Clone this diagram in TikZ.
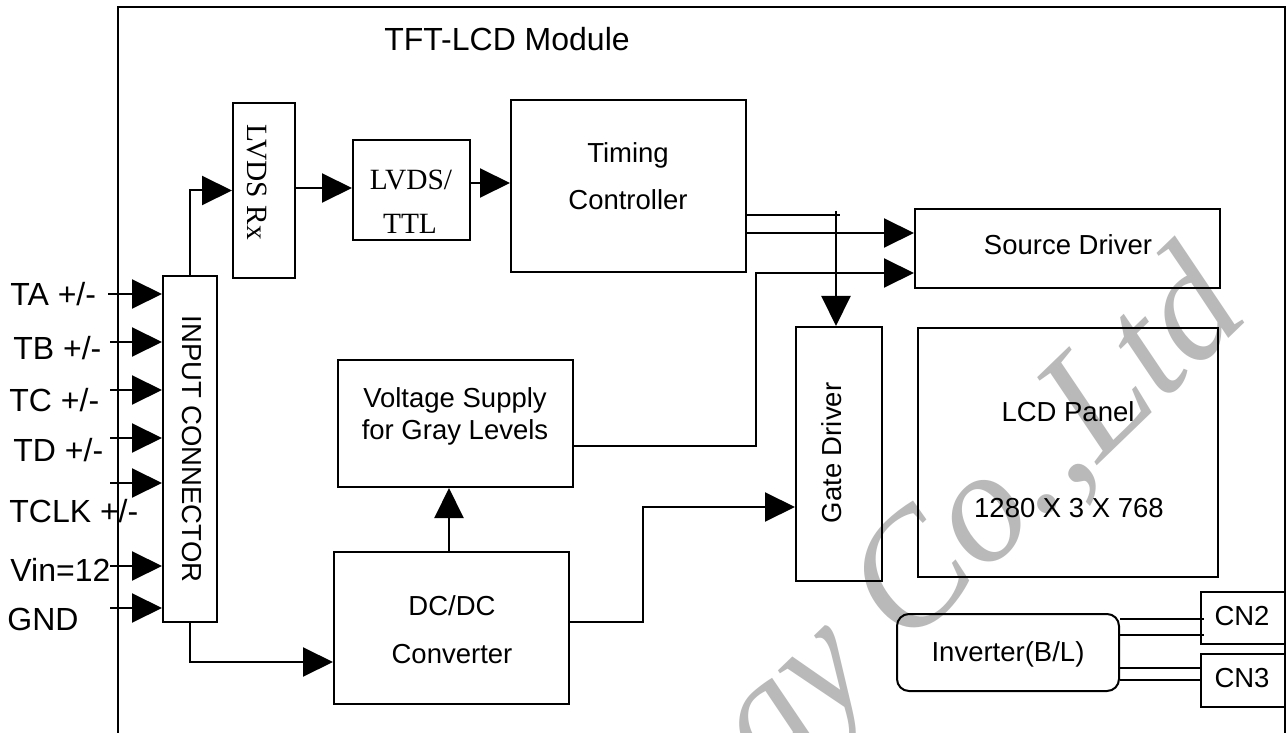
\documentclass[tikz,border=0pt]{standalone}
\usepackage{fontspec}
\setmainfont{Liberation Sans}
\newfontfamily\tmsfont{Liberation Serif}
\usetikzlibrary{arrows.meta}
\definecolor{wmgray}{RGB}{185,185,185}
\begin{document}
\begin{tikzpicture}[x=0.5pt,y=-0.5pt,
  box/.style={draw,line width=1pt,inner sep=0pt,rectangle},
  arr/.style={line width=1pt,-{Triangle[length=15pt,width=14.5pt]}},
  wire/.style={line width=1pt},
  big/.style={inner sep=0pt,font=\fontsize{16}{19}\selectfont},
  txt/.style={inner sep=0pt,font=\fontsize{13.75}{16}\selectfont},
  tms/.style={inner sep=0pt,font=\tmsfont\fontsize{14.7}{17}\selectfont},
  wm/.style={inner sep=0pt,text=wmgray,font=\tmsfont\itshape\fontsize{80}{90}\selectfont}]
\useasboundingbox (0,0) rectangle (1287,733);
\fill[white] (0,0) rectangle (1287,733);
% watermark
\begin{scope}
\clip (0,0) rectangle (1287,733);
\node[wm,rotate=44,anchor=base east] (wmk) at (1252,316) {ogy Co.,Ltd};
\end{scope}
% module frame
\draw[wire] (118,733) -- (118,7) -- (1285,7) -- (1285,733);
\node[big,anchor=base] (title) at (507,51) {TFT-LCD Module};
% boxes
\node[box,minimum width=27pt,minimum height=173pt] (incon) at (190,449) {};
\node[box,minimum width=31pt,minimum height=87.5pt] (lvdsrx) at (264,190.5) {};
\node[box,minimum width=58.5pt,minimum height=50pt] (lvdsttl) at (411.5,190) {};
\node[box,minimum width=117.5pt,minimum height=86pt] (tcon) at (628.5,186) {};
\node[box,minimum width=152.5pt,minimum height=39.5pt] (srcdrv) at (1067.5,248.5) {};
\node[box,minimum width=43pt,minimum height=127pt] (gatedrv) at (839,454) {};
\node[box,minimum width=150pt,minimum height=124.5pt] (lcd) at (1068,452.5) {};
\node[box,minimum width=117.5pt,minimum height=63.5pt] (vsup) at (455.5,423.5) {};
\node[box,minimum width=117.5pt,minimum height=76pt] (dcdc) at (451.5,628) {};
\node[box,rounded corners=6pt,minimum width=111pt,minimum height=38.5pt] (inv) at (1008,652.5) {};
\node[box,minimum width=42pt,minimum height=26pt] (cn2) at (1243,618) {};
\node[box,minimum width=42pt,minimum height=26.5pt] (cn3) at (1243,680.5) {};
% box texts
\node[txt,rotate=-90] (incont) at (192,449) {INPUT CONNECTOR};
\node[tms,rotate=-90] (lvdsrxt) at (257,182) {LVDS Rx};
\node[tms,anchor=base] (lvdsttl1) at (411,190) {LVDS/};
\node[tms,anchor=base] (lvdsttl2) at (410,234) {TTL};
\node[txt,anchor=base] (tcon1) at (628,163) {Timing};
\node[txt,anchor=base] (tcon2) at (628,210) {Controller};
\node[txt,anchor=base] (srct) at (1068,255) {Source Driver};
\node[txt,rotate=90] (gatet) at (832,453) {Gate Driver};
\node[txt,anchor=base] (lcd1) at (1068,422) {LCD Panel};
\node[txt,anchor=base] (lcd2) at (1069,517) {1280 X 3 X 768};
\node[txt,anchor=base] (vsup1) at (455,408) {Voltage Supply};
\node[txt,anchor=base] (vsup2) at (455,439) {for Gray Levels};
\node[txt,anchor=base] (dcdc1) at (452,615) {DC/DC};
\node[txt,anchor=base] (dcdc2) at (452,663) {Converter};
\node[txt,anchor=base] (invt) at (1008,661) {Inverter(B/L)};
\node[txt,anchor=base] (cn2t) at (1242,625) {CN2};
\node[txt,anchor=base] (cn3t) at (1242,687) {CN3};
% input labels
\node[big,anchor=base west] (lta) at (10,306) {TA +/-};
\node[big,anchor=base west] (ltb) at (13,359) {TB +/-};
\node[big,anchor=base west] (ltc) at (9,411) {TC +/-};
\node[big,anchor=base west] (ltd) at (13,461) {TD +/-};
\node[big,anchor=base west] (ltclk) at (9,522) {TCLK +/-};
\node[big,anchor=base west] (lvin) at (10,581) {Vin=12};
\node[big,anchor=base west] (lgnd) at (7,630) {GND};
% input wires
\coordinate (ita) at (108,294);
\coordinate (itb) at (110,342);
\coordinate (itc) at (110,390);
\coordinate (itd) at (110,438);
\coordinate (itclk) at (110,483);
\coordinate (ivin) at (110,566);
\coordinate (ignd) at (110,608);
\foreach \c in {ita,itb,itc,itd,itclk,ivin,ignd}
  \draw[arr] (\c) -- (\c -| incon.west);
% connectors
\draw[arr] (incon.north) |- (lvdsrx.west);
\draw[arr] (lvdsrx.east |- 0,188) -- (lvdsttl.west |- 0,188);
\draw[arr] (lvdsttl.east |- 0,183) -- (tcon.west |- 0,183);
\coordinate (j1) at (836,215);
\coordinate (j1a) at (840,215);
\coordinate (j1b) at (836,211);
\draw[wire] (tcon.east |- j1) -- (j1a);
\draw[arr] (j1b) -- (j1b |- gatedrv.north);
\draw[arr] (tcon.east |- 0,233) -- (srcdrv.west |- 0,233);
\coordinate (j2) at (756,446);
\draw[arr] (vsup.east |- j2) -- (j2) -- (756,273) -- (srcdrv.west |- 0,273);
\draw[arr] (dcdc.north -| 449,0) -- (vsup.south -| 449,0);
\coordinate (j3) at (643,622);
\draw[arr] (dcdc.east |- j3) -- (j3) -- (643,507) -- (gatedrv.west |- 0,507);
\draw[arr] (incon.south) |- (dcdc.west |- 0,662);
\draw[wire] (inv.east |- 0,619) -- ([xshift=2pt]cn2.west |- 0,619);
\draw[wire] (inv.east |- 0,635) -- ([xshift=2pt]cn2.west |- 0,635);
\draw[wire] (inv.east |- 0,668) -- (cn3.west |- 0,668);
\draw[wire] (inv.east |- 0,680) -- (cn3.west |- 0,680);
\end{tikzpicture}
\end{document}
